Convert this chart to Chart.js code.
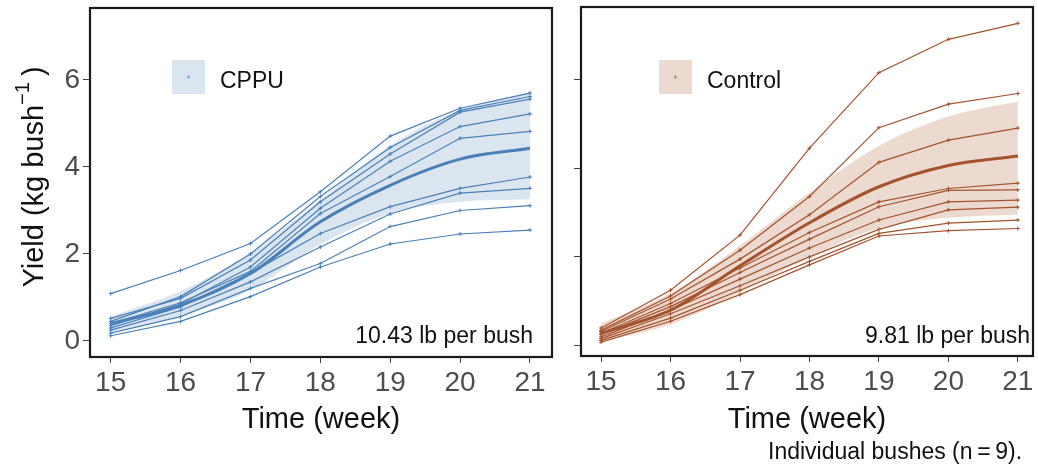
<!DOCTYPE html>
<html><head><meta charset="utf-8">
<script src="https://cdn.jsdelivr.net/npm/chart.js@4.4.1/dist/chart.umd.min.js"></script>
<style>
html,body{margin:0;padding:0;background:#fff;width:1038px;height:470px;overflow:hidden}
.wrap{position:absolute;top:0}
</style></head><body>
<div class="wrap" style="left:0;width:560px;height:470px"><canvas id="c1" width="560" height="470"></canvas></div>
<div class="wrap" style="left:560px;width:478px;height:470px"><canvas id="c2" width="478" height="470"></canvas></div>
<script>
// ---- data ----
const weeks = [15, 16, 17, 18, 19, 20, 21];
const yTicks = [0, 2, 4, 6];

const cppuBushes = [
  [1.09, 1.62, 2.24, 3.43, 4.71, 5.35, 5.70],
  [0.45, 1.02, 2.00, 3.32, 4.45, 5.30, 5.62],
  [0.52, 0.98, 1.86, 3.20, 4.30, 5.26, 5.56],
  [0.35, 0.85, 1.70, 3.05, 4.13, 4.93, 5.22],
  [0.40, 0.88, 1.60, 2.93, 3.78, 4.66, 4.82],
  [0.30, 0.78, 1.56, 2.47, 3.09, 3.51, 3.77],
  [0.25, 0.70, 1.36, 2.16, 2.92, 3.40, 3.51],
  [0.18, 0.56, 1.21, 1.78, 2.63, 3.00, 3.11],
  [0.12, 0.45, 1.02, 1.70, 2.23, 2.46, 2.55]
];
const cppuMean  = [0.40, 0.82, 1.55, 2.74, 3.58, 4.18, 4.43];
const cppuUpper = [0.57, 1.15, 2.03, 3.24, 4.50, 5.31, 5.73];
const cppuLower = [0.20, 0.58, 1.17, 2.22, 2.93, 3.20, 3.26];

const controlBushes = [
  [0.40, 1.25, 2.49, 4.45, 6.15, 6.90, 7.26],
  [0.35, 1.12, 2.15, 3.36, 4.91, 5.44, 5.68],
  [0.32, 1.05, 1.95, 2.95, 4.13, 4.63, 4.90],
  [0.28, 0.95, 1.75, 2.55, 3.24, 3.54, 3.66],
  [0.25, 0.88, 1.65, 2.40, 3.13, 3.50, 3.51],
  [0.20, 0.80, 1.50, 2.20, 2.83, 3.24, 3.28],
  [0.16, 0.72, 1.35, 2.00, 2.62, 3.06, 3.12],
  [0.12, 0.62, 1.25, 1.90, 2.53, 2.76, 2.83],
  [0.08, 0.55, 1.15, 1.82, 2.47, 2.59, 2.64]
];
const controlMean  = [0.28, 0.80, 1.80, 2.77, 3.58, 4.06, 4.27];
const controlUpper = [0.50, 1.18, 2.25, 3.45, 4.50, 5.16, 5.50];
const controlLower = [0.10, 0.48, 1.20, 2.00, 2.65, 2.88, 2.95];

// ---- styling ----
const FF = "'Liberation Sans', Arial, sans-serif";
const BLUE = '#4a80b8', BLUE_FILL = '#dbe5ef';
const BROWN = '#a4532c', BROWN_FILL = '#ecd9d0';

function pts(arr) { return weeks.map((w, i) => ({ x: w, y: arr[i] })); }

function makeDatasets(bushes, mean, upper, lower, line, fillCol) {
  const ds = [];
  ds.push({ data: pts(upper), borderWidth: 0, pointRadius: 0, fill: false,
            cubicInterpolationMode: 'monotone', order: 10 });
  ds.push({ data: pts(lower), borderWidth: 0, pointRadius: 0, fill: '-1',
            backgroundColor: fillCol, cubicInterpolationMode: 'monotone', order: 9 });
  bushes.forEach(b => ds.push({
    data: pts(b), borderColor: line, borderWidth: 1.2, tension: 0, fill: false,
    pointStyle: 'cross', pointRadius: 2, pointBorderColor: line, pointBorderWidth: 1, order: 2
  }));
  ds.push({ data: pts(mean), borderColor: line, borderWidth: 3, pointRadius: 0, fill: false,
            cubicInterpolationMode: 'monotone', order: 1 });
  return ds;
}

function decor(cfg) {
  return {
    id: 'decor',
    afterDraw(chart) {
      const ctx = chart.ctx, a = chart.chartArea;
      ctx.save();
      // panel border
      ctx.strokeStyle = '#1a1a1a'; ctx.lineWidth = 2.2;
      ctx.strokeRect(a.left, a.top, a.right - a.left, a.bottom - a.top);
      // legend key
      ctx.fillStyle = cfg.fill;
      ctx.fillRect(cfg.legX, 60, 33, 34);
      ctx.strokeStyle = cfg.line; ctx.globalAlpha = 0.6; ctx.lineWidth = 1;
      const cx = cfg.legX + 16.5, cy = 77;
      ctx.beginPath(); ctx.moveTo(cx - 2, cy); ctx.lineTo(cx + 2, cy);
      ctx.moveTo(cx, cy - 2); ctx.lineTo(cx, cy + 2); ctx.stroke();
      ctx.globalAlpha = 1;
      ctx.fillStyle = '#111'; ctx.font = '23px ' + FF;
      ctx.textBaseline = 'alphabetic'; ctx.textAlign = 'left';
      ctx.fillText(cfg.label, cfg.legX + 48, 88);
      // annotation
      ctx.textAlign = 'right';
      ctx.fillText(cfg.note, cfg.noteX, 343);
      if (cfg.extra) cfg.extra(ctx);
      ctx.restore();
    }
  };
}

function yTitle(ctx) {
  ctx.save();
  ctx.translate(43, 177);
  ctx.rotate(-Math.PI / 2);
  ctx.fillStyle = '#111';
  ctx.textAlign = 'left'; ctx.textBaseline = 'alphabetic';
  const f1 = '29px ' + FF, f2 = '20px ' + FF;
  const p1 = 'Yield (kg bush', p2 = '\u22121', p3 = ')';
  ctx.font = f1; const w1 = ctx.measureText(p1).width, w3 = ctx.measureText(p3).width;
  ctx.font = f2; const w2 = ctx.measureText(p2).width;
  const gap = 6;
  let x = -(w1 + w2 + gap + w3) / 2;
  ctx.font = f1; ctx.fillText(p1, x, 0); x += w1;
  ctx.font = f2; ctx.fillText(p2, x, -14); x += w2 + gap;
  ctx.font = f1; ctx.fillText(p3, x, 0);
  ctx.restore();
}

function options(cfg) {
  return {
    responsive: false, animation: false, devicePixelRatio: 1, events: [],
    layout: { padding: { left: 0, right: cfg.padR, top: cfg.top, bottom: 0 } },
    plugins: { legend: { display: false }, tooltip: { enabled: false } },
    scales: {
      x: {
        type: 'linear', min: cfg.xmin, max: cfg.xmax,
        afterBuildTicks: s => { s.ticks = weeks.map(v => ({ value: v })); },
        ticks: { color: '#4d4d4d', font: { family: FF, size: 28 }, padding: 3, maxRotation: 0, autoSkip: false,
                 callback: v => String(v) },
        grid: { display: true, drawOnChartArea: false, drawTicks: true, tickLength: 6, color: '#444', lineWidth: 1 },
        border: { display: false },
        title: { display: true, text: 'Time (week)', color: '#111', font: { family: FF, size: 29 },
                 padding: { top: 0, bottom: 33 } },
        afterFit: s => { s.height = cfg.xh; s.paddingLeft = 0; s.paddingRight = 0; }
      },
      y: {
        type: 'linear', min: cfg.ymin, max: cfg.ymax,
        afterBuildTicks: s => { s.ticks = yTicks.map(v => ({ value: v })); },
        ticks: { color: '#4d4d4d', font: { family: FF, size: 28 }, padding: 3,
                 callback: v => cfg.showY ? String(v) : '' },
        grid: { display: true, drawOnChartArea: false, drawTicks: true, tickLength: 7, color: '#444', lineWidth: 1 },
        border: { display: false },
        afterFit: s => { s.width = cfg.yw; s.paddingTop = 0; s.paddingBottom = 0; }
      }
    }
  };
}

new Chart(document.getElementById('c1'), {
  type: 'line',
  data: { datasets: makeDatasets(cppuBushes, cppuMean, cppuUpper, cppuLower, BLUE, BLUE_FILL) },
  options: options({ padR: 8, top: 8, xmin: 14.704, xmax: 21.315, ymin: -0.368, ymax: 7.655,
                     xh: 113, yw: 90, showY: true }),
  plugins: [decor({ fill: BLUE_FILL, line: BLUE, legX: 172, label: 'CPPU',
                    note: '10.43 lb per bush', noteX: 533, extra: yTitle })]
});

new Chart(document.getElementById('c2'), {
  type: 'line',
  data: { datasets: makeDatasets(controlBushes, controlMean, controlUpper, controlLower, BROWN, BROWN_FILL) },
  options: options({ padR: 1, top: 7, xmin: 14.711, xmax: 21.218, ymin: -0.232, ymax: 7.628,
                     xh: 114, yw: 21, showY: false }),
  plugins: [decor({ fill: BROWN_FILL, line: BROWN, legX: 99, label: 'Control',
                    note: '9.81 lb per bush', noteX: 470,
                    extra: ctx => { ctx.textAlign = 'left'; ctx.font = '23px ' + FF; ctx.fillStyle = '#111';
                                    ctx.fillText('Individual bushes (n\u2009=\u20099).', 208, 459); } })]
});
</script>
</body></html>
